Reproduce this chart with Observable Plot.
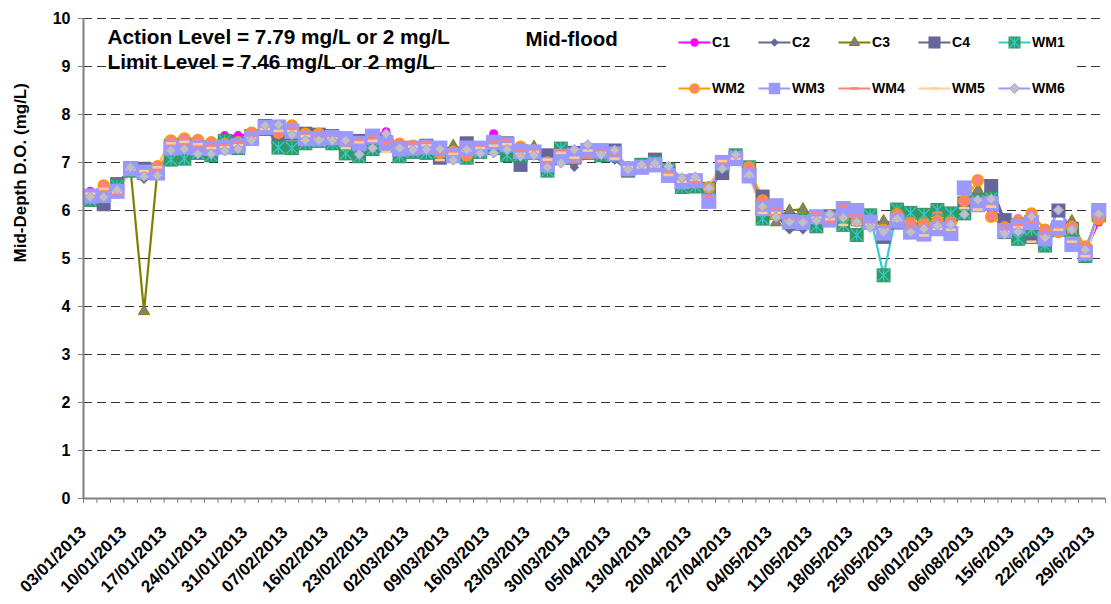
<!DOCTYPE html>
<html><head><meta charset="utf-8">
<script src="https://cdn.jsdelivr.net/npm/d3@7"></script>
<script src="https://cdn.jsdelivr.net/npm/@observablehq/plot@0.6"></script>
<style>
body{margin:0;background:#fff;}
#wrap{position:relative;width:1111px;height:604px;font-family:"Liberation Sans",Arial,sans-serif;}
#legend{position:absolute;left:670px;top:20px;width:403px;height:86px;background:#fff;}
</style></head><body><div id="wrap"></div>
<script>
// ---------- data ----------
const dateLabels = ["03/01/2013","10/01/2013","17/01/2013","24/01/2013","31/01/2013","07/02/2013","16/02/2013","23/02/2013","02/03/2013","09/03/2013","16/03/2013","23/03/2013","30/03/2013","05/04/2013","13/04/2013","20/04/2013","27/04/2013","04/05/2013","11/05/2013","18/05/2013","25/05/2013","06/01/2013","06/08/2013","15/6/2013","22/6/2013","29/6/2013"];

const C1 = [6.40,6.35,6.45,6.80,6.78,6.80,7.35,7.40,7.40,7.35,
7.56,7.56,7.60,7.72,7.60,7.62,7.55,7.55,7.55,7.50,
7.40,7.55,7.64,7.30,7.32,7.35,7.25,7.20,7.30,7.28,
7.60,7.42,7.20,7.22,6.95,7.10,7.15,7.25,7.22,7.20,
6.88,6.92,6.98,6.75,6.62,6.65,6.40,6.98,7.12,6.75,
6.15,5.95,5.80,5.78,5.85,5.85,5.92,5.80,5.72,5.55,
5.85,5.65,5.65,5.75,5.78,6.10,6.30,5.95,5.72,5.83,
5.80,5.50,5.60,5.55,5.15,5.76];
const C2 = [6.30,6.30,6.42,6.85,6.65,6.75,7.30,7.35,7.15,7.20,
7.30,7.35,7.52,7.72,7.55,7.58,7.50,7.50,7.60,7.48,
7.40,7.55,7.60,7.28,7.28,7.30,7.20,7.10,7.25,7.25,
7.38,7.35,7.20,7.20,6.95,7.10,6.90,7.20,7.20,7.05,
6.85,6.90,6.95,6.75,6.58,6.60,6.45,6.85,7.10,6.72,
6.10,5.90,5.60,5.60,5.80,5.85,5.88,5.78,5.70,5.55,
5.80,5.60,5.60,5.70,5.75,6.05,6.25,6.20,5.85,5.75,
5.72,5.45,5.60,5.60,5.15,5.95];
const C3 = [6.30,6.35,6.45,6.85,3.90,6.85,7.30,7.35,7.30,7.30,
7.35,7.40,7.55,7.75,7.58,7.62,7.55,7.45,7.50,7.45,
7.45,7.55,7.40,7.30,7.30,7.32,7.15,7.35,7.25,7.30,
7.40,7.35,7.25,7.33,6.95,7.10,7.15,7.22,7.10,7.18,
6.88,6.92,6.98,6.75,6.60,6.62,6.48,6.95,7.12,6.80,
6.10,5.75,6.00,6.03,5.85,5.85,5.90,5.75,5.72,5.78,
5.72,5.62,5.62,5.72,5.80,6.05,6.42,6.20,5.60,5.70,
5.75,5.50,5.62,5.78,5.18,5.95];
const C4 = [6.25,6.13,6.55,6.88,6.87,6.82,7.35,7.38,7.32,7.30,
7.35,7.40,7.55,7.70,7.53,7.60,7.60,7.58,7.55,7.50,
7.45,7.55,7.42,7.30,7.30,7.35,7.10,7.15,7.40,7.30,
7.40,7.40,6.95,7.20,7.15,7.10,7.20,7.22,7.25,7.25,
6.83,6.95,7.06,6.78,6.60,6.62,6.45,6.78,7.10,6.75,
6.29,6.05,5.80,5.78,5.85,5.88,5.90,5.86,5.75,5.45,
5.75,5.60,5.60,5.70,5.90,6.15,6.20,6.51,5.80,5.70,
5.45,5.45,6.00,5.62,5.15,5.95];
const WM1 = [6.22,6.30,6.51,6.83,6.78,6.85,7.06,7.08,7.20,7.15,
7.45,7.30,7.55,7.76,7.31,7.30,7.40,7.45,7.40,7.19,
7.13,7.28,7.35,7.13,7.22,7.20,7.22,7.18,7.10,7.22,
7.30,7.15,7.15,7.20,6.83,7.29,7.10,7.20,7.15,7.15,
6.85,6.95,7.00,6.85,6.49,6.50,6.45,6.95,7.15,6.90,
5.83,5.95,5.75,5.80,5.67,5.85,5.70,5.49,5.90,4.65,
6.02,5.95,5.91,6.01,5.94,5.94,6.20,6.25,5.55,5.41,
5.60,5.27,5.60,5.60,5.05,5.90];
const WM2 = [6.33,6.52,6.40,6.85,6.82,6.92,7.46,7.50,7.47,7.42,
7.38,7.42,7.62,7.72,7.62,7.77,7.60,7.60,7.55,7.50,
7.42,7.50,7.40,7.39,7.35,7.35,7.20,7.22,7.15,7.28,
7.40,7.35,7.33,7.25,7.00,7.15,7.20,7.21,7.22,7.20,
6.90,6.92,6.98,6.72,6.62,6.62,6.48,7.00,7.12,6.90,
6.21,5.90,5.80,5.78,5.85,5.88,5.90,5.78,5.70,5.60,
5.92,5.74,5.72,5.79,5.75,6.20,6.63,5.87,5.65,5.78,
5.94,5.60,5.55,5.66,5.25,5.82];
const WM3 = [6.30,6.31,6.40,6.87,6.80,6.78,7.30,7.32,7.30,7.29,
7.32,7.35,7.50,7.73,7.74,7.65,7.50,7.49,7.52,7.49,
7.40,7.55,7.40,7.28,7.30,7.32,7.30,7.14,7.30,7.30,
7.42,7.37,7.23,7.22,6.95,7.13,7.15,7.25,7.24,7.18,
6.87,6.90,6.95,6.73,6.60,6.62,6.19,7.00,7.08,6.72,
6.04,6.10,5.77,5.75,5.87,5.80,6.04,6.00,5.76,5.53,
5.78,5.55,5.51,5.62,5.52,6.47,6.12,6.15,5.58,5.67,
5.75,5.41,5.64,5.29,5.11,6.00];
const WM4 = [6.33,6.40,6.35,6.88,6.80,6.85,7.37,7.37,7.35,7.35,
7.38,7.40,7.55,7.74,7.60,7.72,7.58,7.52,7.52,7.40,
7.47,7.52,7.40,7.33,7.40,7.42,7.22,7.20,7.30,7.34,
7.44,7.45,7.25,7.25,7.00,7.25,7.00,7.10,7.25,7.18,
6.92,6.96,6.98,6.78,6.62,6.60,6.30,7.00,7.10,6.75,
6.05,6.04,5.82,5.80,5.95,5.77,6.10,5.90,5.72,5.58,
5.85,5.65,5.65,5.95,5.80,6.15,6.20,6.10,5.65,5.70,
5.75,5.50,5.62,5.55,5.15,5.90];
const WM5 = [6.35,6.45,6.38,6.86,6.82,6.90,7.40,7.43,7.38,7.30,
7.32,7.36,7.50,7.70,7.66,7.65,7.55,7.48,7.50,7.30,
7.42,7.45,7.22,7.30,7.33,7.36,7.05,7.18,7.25,7.30,
7.35,7.38,7.18,7.22,7.06,7.20,7.10,7.25,7.20,7.08,
6.90,6.90,6.92,6.74,6.60,6.64,6.45,7.03,7.08,6.72,
5.95,5.95,5.78,5.76,5.85,5.82,5.70,5.72,5.70,5.60,
5.80,5.55,5.48,5.62,5.60,6.05,6.02,6.08,5.55,5.65,
5.35,5.45,5.60,5.35,5.05,5.92];
const WM6 = [6.28,6.28,6.43,6.90,6.71,6.73,7.25,7.28,7.18,7.18,
7.24,7.28,7.46,7.77,7.79,7.58,7.46,7.46,7.46,7.46,
7.17,7.30,7.60,7.30,7.26,7.27,7.28,7.05,7.27,7.19,
7.20,7.27,7.13,7.15,6.90,6.99,7.27,7.37,7.16,7.26,
6.85,6.96,6.98,6.92,6.68,6.70,6.47,6.87,7.16,6.75,
6.08,5.86,5.76,5.75,5.79,5.92,5.85,5.76,5.65,5.55,
5.83,5.55,5.62,5.69,5.71,5.92,6.22,6.24,5.51,5.56,
5.87,5.43,6.01,5.60,5.18,5.93];

const seriesNames = ["C1","C2","C3","C4","WM1","WM2","WM3","WM4","WM5","WM6"];
const seriesValues = [C1,C2,C3,C4,WM1,WM2,WM3,WM4,WM5,WM6];
const yTicks = [0,1,2,3,4,5,6,7,8,9,10];

// ---------- styles ----------
const star = {draw(ctx, size){const h=Math.sqrt(size)/2;ctx.moveTo(-h,-h);ctx.lineTo(h,h);ctx.moveTo(-h,h);ctx.lineTo(h,-h);ctx.moveTo(0,-h);ctx.lineTo(0,h);}};
const dash = {draw(ctx, size){const h=Math.sqrt(size)/2;ctx.moveTo(-h,0);ctx.lineTo(h,0);}};
const styles = {
  C1:{line:"#FF00FF",symbol:"circle",r:4.5,lr:4.2,fill:"#FF00FF",stroke:"none",sw:0},
  C2:{line:"#666699",symbol:"diamond2",r:4.3,lr:3.8,fill:"#666699",stroke:"none",sw:0},
  C3:{line:"#808000",symbol:"triangle",r:4.2,lr:3.8,fill:"#808080",stroke:"#808000",sw:1},
  C4:{line:"#666699",symbol:"square",r:7.9,lr:6.8,fill:"#666699",stroke:"none",sw:0},
  WM1:{line:"#33CCCC",symbol:"square",r:7.9,lr:6.8,fill:"#339966",stroke:"none",sw:0,star:true},
  WM2:{line:"#FF9900",symbol:"circle",r:5.5,lr:4.5,fill:"#FF8080",stroke:"#FF9900",sw:1.5},
  WM3:{line:"#9999FF",symbol:"square",r:8.5,lr:6.5,fill:"#9999FF",stroke:"none",sw:0},
  WM4:{line:"#FF8080",symbol:dash,r:5.6,lr:4.5,fill:"none",stroke:"#FF8080",sw:2.5},
  WM5:{line:"#FFCC99",symbol:dash,r:5.6,lr:4.5,fill:"none",stroke:"#FFCC99",sw:2.5},
  WM6:{line:"#9999FF",symbol:"diamond2",r:4.6,lr:4.4,fill:"#C0C0C0",stroke:"#9999FF",sw:1}
};
const FONT = "'Liberation Sans', Arial, Helvetica, sans-serif";

const n = C1.length;
const rowsBy = seriesNames.map((s, k) => seriesValues[k].map((v, i) => ({s, i, v})));
const xOf = d => d.i + 0.5;

const lineMarks = seriesNames.map((s, k) => Plot.line(rowsBy[k], {x: xOf, y: "v", stroke: styles[s].line, strokeWidth: 2.2}));
const dotMarks = [];
seriesNames.forEach((s, k) => {
  const st = styles[s];
  dotMarks.push(Plot.dot(rowsBy[k], {x: xOf, y: "v", symbol: st.symbol, r: st.r, fill: st.fill, stroke: st.stroke, strokeWidth: st.sw}));
  if (st.star) dotMarks.push(Plot.dot(rowsBy[k], {x: xOf, y: "v", symbol: star, r: 6.6, fill: "none", stroke: "#33CCCC", strokeWidth: 1.2}));
});

const labelTicks = d3.range(0, n, 3).map(i => i + 0.5);

const chart = Plot.plot({
  width: 1111, height: 604,
  marginLeft: 83, marginRight: 6, marginTop: 18, marginBottom: 106,
  x: {domain: [0, n], axis: null},
  y: {domain: [0, 10], axis: null},
  style: {fontFamily: FONT, background: "white", color: "black", overflow: "visible"},
  marks: [
    Plot.ruleY(yTicks.filter(t => t > 0), {stroke: "#333", strokeWidth: 1.2, strokeDasharray: "9,5"}),
    Plot.axisY({ticks: yTicks, tickSize: 5, tickPadding: 8, fontSize: 16, fontWeight: "bold", stroke: "#808080", label: null}),
    Plot.axisX({ticks: d3.range(0, n + 1), tickSize: 5, tickFormat: () => "", stroke: "#808080", label: null}),
    Plot.axisX({ticks: labelTicks, tickSize: 0, tickPadding: 31, tickRotate: -45, fontSize: 17, fontWeight: "bold",
      tickFormat: d => dateLabels[Math.round((d - 0.5) / 3)], label: null, dx: -7}),
    ...lineMarks,
    ...dotMarks,
    Plot.ruleX([0], {stroke: "#808080", strokeWidth: 2}),
    Plot.ruleY([0], {stroke: "#808080", strokeWidth: 2}),
    Plot.text(["Mid-Depth D.O. (mg/L)"], {frameAnchor: "left", rotate: -90, dx: -63, dy: 4, fontSize: 17, fontWeight: "bold"}),
    Plot.text(["Action Level = 7.79 mg/L or 2 mg/L"], {frameAnchor: "top-left", dx: 24, dy: 25, textAnchor: "start", lineAnchor: "bottom", fontSize: 20.8, fontWeight: "bold"}),
    Plot.text(["Limit Level = 7.46 mg/L or 2 mg/L"], {frameAnchor: "top-left", dx: 24, dy: 50, textAnchor: "start", lineAnchor: "bottom", fontSize: 20.8, fontWeight: "bold"}),
    Plot.text(["Mid-flood"], {frameAnchor: "top-left", dx: 442, dy: 27, textAnchor: "start", lineAnchor: "bottom", fontSize: 20.5, fontWeight: "bold"})
  ]
});

// ---------- legend ----------
const legendItems = seriesNames.map((s, k) => ({s, col: k % 5, row: Math.floor(k / 5)}));
const legMarks = [];
legendItems.forEach(d => {
  const st = styles[d.s];
  legMarks.push(Plot.link([d], {x1: "col", x2: e => e.col + 0.4, y1: "row", y2: "row", stroke: st.line, strokeWidth: 2.2}));
  legMarks.push(Plot.dot([d], {x: e => e.col + 0.2, y: "row", symbol: st.symbol, r: st.lr, fill: st.fill, stroke: st.stroke, strokeWidth: st.sw}));
  if (st.star) legMarks.push(Plot.dot([d], {x: e => e.col + 0.2, y: "row", symbol: star, r: 5.6, fill: "none", stroke: "#33CCCC", strokeWidth: 1.2}));
});
legMarks.push(Plot.text(legendItems, {x: e => e.col + 0.42, y: "row", text: "s", textAnchor: "start", fontSize: 14, fontWeight: "bold", fill: "black"}));
const legend = Plot.plot({
  width: 403, height: 86, margin: 0,
  x: {domain: [0, 5], range: [8, 408], axis: null},
  y: {domain: [0, 1], range: [22, 68], axis: null},
  style: {fontFamily: FONT, background: "white", overflow: "visible"},
  marks: legMarks
});

const wrap = document.getElementById("wrap");
wrap.appendChild(chart);
const ld = document.createElement("div");
ld.id = "legend";
ld.appendChild(legend);
wrap.appendChild(ld);
</script>
</body></html>
